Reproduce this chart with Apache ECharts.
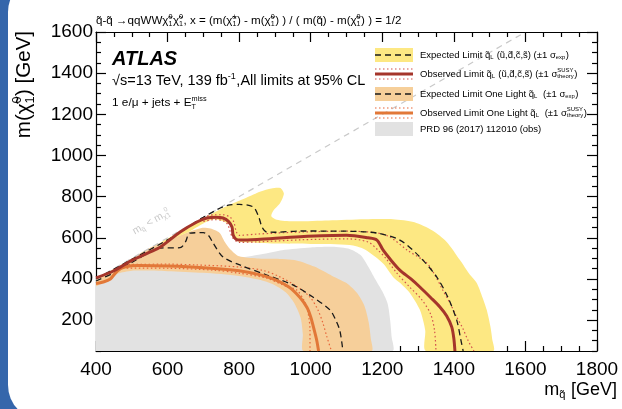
<!DOCTYPE html>
<html><head><meta charset="utf-8">
<script src="https://cdn.jsdelivr.net/npm/echarts@6/dist/echarts.min.js"></script>
<style>
html,body{margin:0;padding:0;width:622px;height:409px;overflow:hidden;background:#3566ab;}
#card{position:absolute;left:8px;top:-23px;width:700px;height:443px;background:#fff;border-radius:35px;}
#chart{position:absolute;left:0;top:0;width:622px;height:409px;}
</style></head>
<body><div id="card"></div><div id="chart"></div>
<script>
// ---------------- data (GeV) ----------------
const xTickLabels = [400, 600, 800, 1000, 1200, 1400, 1600, 1800];
const yTickLabels = [200, 400, 600, 800, 1000, 1200, 1400, 1600];
const yMinorTicks = [50,100,150,250,300,350,450,500,550,650,700,750,850,900,950,1050,1100,1150,1250,1300,1350,1450,1500,1550];

const prdRegion = [[400,50],[400,372],[420,385],[440,410],[460,440],[480,458],[520,468],[600,472],[700,478],[800,502],[870,522],[920,540],[1000,553],[1060,556],[1110,545],[1140,515],[1160,462],[1180,400],[1200,340],[1215,280],[1222,200],[1226,120],[1228,50]];

const lightExpBand = [[400,400],[450,450],[500,500],[550,550],[600,590],[640,615],[670,635],[695,648],[720,645],[745,625],[760,580],[775,545],[800,510],[850,500],[900,498],[960,490],[1010,460],[1060,415],[1100,380],[1130,330],[1150,270],[1162,190],[1168,110],[1170,50],
  [980,50],[978,130],[972,210],[955,280],[930,335],[900,370],[860,395],[800,415],[700,430],[600,438],[500,440],[460,425],[430,395],[400,365]];

const fourExpBand = [[580,575],[650,645],[700,695],[760,750],[820,795],[860,825],[890,840],[915,842],[925,815],[915,770],[895,730],[890,705],[905,688],[950,680],[1050,684],[1150,690],[1230,690],[1290,675],[1340,635],[1380,580],[1417,492],[1445,420],[1464,380],[1480,310],[1492,249],[1502,170],[1507,110],[1510,50],
  [1322,50],[1320,150],[1305,250],[1277,332],[1250,380],[1230,410],[1205,470],[1185,502],[1150,545],[1109,565],[1000,570],[900,572],[820,578],[795,585],[785,620],[775,660],[755,680],[730,690],[700,670],[660,630],[620,600]];

const kinematicLine = [[400,400],[1600,1600]];

const fourObs = [[400,405],[450,440],[500,490],[550,530],[580,555],[635,628],[682,677],[710,696],[735,700],[755,696],[770,680],[780,652],[783,615],[790,595],[802,589],[850,592],[970,605],[1100,612],[1160,600],[1185,589],[1202,541],[1225,490],[1249,443],[1280,400],[1305,361],[1335,310],[1361,264],[1380,220],[1394,167],[1400,110],[1403,50]];
const fourObsUp = [[700,700],[730,712],[755,712],[775,700],[785,677],[792,630],[800,612],[850,618],[970,628],[1100,632],[1180,625],[1221,604],[1270,540],[1324,478],[1350,410],[1369,346],[1390,280],[1408,215],[1425,160],[1440,100],[1456,50]];
const fourObsDown = [[700,680],[730,688],[755,683],[768,665],[775,630],[782,600],[800,578],[850,580],[970,590],[1100,595],[1160,580],[1188,540],[1210,500],[1240,430],[1277,360],[1310,300],[1335,230],[1346,150],[1350,50]];
const fourExp = [[400,400],[500,495],[600,590],[654,648],[700,700],[774,760],[800,762],[839,750],[855,700],[864,652],[877,628],[900,627],[970,633],[1100,632],[1185,623],[1249,589],[1305,507],[1352,410],[1383,312],[1408,200],[1420,100],[1426,50]];

const lightObs = [[400,378],[420,385],[440,400],[460,440],[480,458],[520,465],[600,463],[700,455],[800,440],[860,420],[900,397],[940,360],[970,310],[990,260],[1000,215],[1010,150],[1017,100],[1022,50]];
const lightObsUp = [[480,470],[600,472],[682,468],[802,458],[870,440],[914,410],[960,365],[998,312],[1020,250],[1034,186],[1045,120],[1058,50]];
const lightObsDown = [[475,453],[600,452],[727,443],[800,428],[877,404],[930,365],[961,346],[980,300],[989,264],[995,210],[998,152],[998,50]];
const lightExp = [[400,390],[450,430],[500,480],[560,540],[579,550],[635,552],[650,580],[662,623],[700,625],[715,610],[727,575],[755,507],[802,468],[877,419],[950,371],[1006,312],[1054,249],[1070,200],[1081,152],[1087,90],[1090,50]];

// ---------------- style ----------------
const FF = '"Liberation Sans", Arial, Helvetica, sans-serif';
const C = {
  gray:'#e2e2e2', orangeBand:'#f6cf9a', yellowBand:'#fde883',
  red:'#a5352b', redDot:'#d2504c', orange:'#e27838', orangeDot:'#e8663a', dash:'#1a1a1a', diag:'#c9c9c9'
};

const chart = echarts.init(document.getElementById('chart'), null, {renderer:'canvas'});

function poly(name, pts, color, z){
  return {type:'custom', name, z, silent:true, clip:true, data:pts, encode:{x:0,y:1},
    renderItem:(params, api)=>{
      if(params.dataIndex!==0) return null;
      return {type:'polygon', shape:{points:pts.map(p=>api.coord(p)), smooth:0.25}, style:{fill:color}};
    }};
}
function line(name, pts, color, width, type, z){
  return {type:'line', name, z, silent:true, data:pts, showSymbol:false, smooth:0.3, clip:true,
    lineStyle:{color, width, type, cap:'butt'}};
}

const blk = {color:'#000', width:1.2};
const plain = v => String(v);
function xAx(pos, labels){
  return {type:'value', min:400, max:1800, interval:200, position:pos,
    splitLine:{show:false}, minorSplitLine:{show:false},
    axisLine:{show:true, onZero:false, lineStyle:blk},
    axisTick:{show:true, inside:true, length:10, lineStyle:blk},
    minorTick:{show:true, splitNumber:4, length:5, lineStyle:blk},
    axisLabel: labels ? {show:true, fontSize:19, color:'#000', margin:9, fontFamily:FF, formatter:plain, customValues:xTickLabels} : {show:false}};
}
function yAx(pos, labels){
  return {type:'value', min:50, max:1600, position:pos,
    splitLine:{show:false}, minorSplitLine:{show:false},
    axisLine:{show:true, onZero:false, lineStyle:blk},
    axisTick:{show:true, inside:true, length:10, lineStyle:blk, customValues:yTickLabels},
    axisLabel: labels ? {show:true, fontSize:19, color:'#000', margin:3, fontFamily:FF, formatter:plain, customValues:yTickLabels} : {show:false}};
}
function yMinor(pos){
  return {type:'value', min:50, max:1600, position:pos,
    splitLine:{show:false}, minorSplitLine:{show:false},
    axisLine:{show:false, onZero:false},
    axisTick:{show:true, inside:true, length:5, lineStyle:blk, customValues:yMinorTicks},
    axisLabel:{show:false}};
}

chart.setOption({
  animation:false,
  grid:{left:96, right:25, top:32, bottom:58},
  xAxis:[xAx('bottom', true), xAx('top', false)],
  yAxis:[yAx('left', true), yAx('right', false), yMinor('left'), yMinor('right')],
  series:[
    poly('PRD 96 (2017) 112010 (obs)', prdRegion, C.gray, 1),
    poly('Expected One Light band', lightExpBand, C.orangeBand, 2),
    poly('Expected 4 flavour band', fourExpBand, C.yellowBand, 3),
    line('kinematic', kinematicLine, C.diag, 1.2, [6,5], 4),
    line('obs light up', lightObsUp, C.orangeDot, 1.2, [1.5,2.5], 5),
    line('obs light down', lightObsDown, C.orangeDot, 1.2, [1.5,2.5], 5),
    line('obs 4 up', fourObsUp, C.redDot, 1.2, [1.5,2.5], 5),
    line('obs 4 down', fourObsDown, C.redDot, 1.2, [1.5,2.5], 5),
    line('exp light', lightExp, C.dash, 1.3, [6,4], 6),
    line('exp 4', fourExp, C.dash, 1.3, [6,4], 6),
    line('obs light', lightObs, C.orange, 3, 'solid', 7),
    line('obs 4', fourObs, C.red, 3, 'solid', 7)
  ]
});

// ---------------- text helpers ----------------
const ctx = document.createElement('canvas').getContext('2d');
function fnt(size, o){ o=o||{}; return (o.style||'normal')+' '+(o.weight||'normal')+' '+size+'px '+FF; }
function tw(t, font){ ctx.font = font; return ctx.measureText(t).width; }
function txt(x, y, t, font, color){
  return {type:'text', x, y, silent:true, z:100,
    style:{text:t, font, fill:color, textAlign:'left', align:'left', textVerticalAlign:'middle', verticalAlign:'middle'}};
}
function run(segs, size, color, o){
  const kids=[]; let x=0;
  segs.forEach(s=>{
    if(typeof s==='string'){ const f=fnt(size,o); kids.push(txt(x,0,s,f,color)); x+=tw(s,f); }
    else { const ss=size*0.62, f=fnt(ss,o); let w=0;
      if(s.sup!=null){ kids.push(txt(x,-size*0.33,s.sup,f,color)); w=Math.max(w,tw(s.sup,f)); }
      if(s.sub!=null){ kids.push(txt(x,size*0.3,s.sub,f,color)); w=Math.max(w,tw(s.sub,f)); }
      x+=w+0.5; }
  });
  return {kids, width:x};
}
function group(x, y, r, rot){ return {type:'group', x, y, rotation:rot||0, z:100, children:r.kids}; }

const qt = 'q\u0303', chi = '\u03c7\u0303';
const g = [];
// title
g.push(group(96, 21, run([qt+'-'+qt+' \u2192qqWW'+chi, {sup:'0',sub:'1'}, chi, {sup:'0',sub:'1'},
  ', x = (m('+chi, {sup:'\u00b1',sub:'1'}, ') - m('+chi, {sup:'0',sub:'1'}, ') ) / ( m('+qt+') - m('+chi, {sup:'0',sub:'1'}, ') ) = 1/2'], 11.6, '#000')));
// ATLAS
g.push(group(112, 59, run(['ATLAS'], 20, '#000', {style:'italic', weight:'bold'})));
g.push(group(112, 81, run(['\u221as=13 TeV, 139 fb', {sup:'-1'}, ',All limits at 95% CL'], 14.5, '#000')));
g.push(group(112, 103, run(['1 e/\u03bc + jets + E', {sup:'miss', sub:'T'}], 11.8, '#000')));

// legend
const lx = 375, lw = 38, tx = 420, ls = 9.5;
const rows = [55, 74, 94, 113, 129];
g.push({type:'rect', z:99, silent:true, shape:{x:lx, y:rows[0]-7, width:lw, height:14}, style:{fill:C.yellowBand}});
g.push({type:'line', z:100, silent:true, shape:{x1:lx, y1:rows[0], x2:lx+lw, y2:rows[0]}, style:{stroke:C.dash, lineWidth:1.3, lineDash:[6,4]}});
g.push({type:'line', z:100, silent:true, shape:{x1:lx, y1:rows[1]-5, x2:lx+lw, y2:rows[1]-5}, style:{stroke:C.redDot, lineWidth:1.2, lineDash:[1.5,2.5]}});
g.push({type:'line', z:100, silent:true, shape:{x1:lx, y1:rows[1]+5, x2:lx+lw, y2:rows[1]+5}, style:{stroke:C.redDot, lineWidth:1.2, lineDash:[1.5,2.5]}});
g.push({type:'line', z:100, silent:true, shape:{x1:lx, y1:rows[1], x2:lx+lw, y2:rows[1]}, style:{stroke:C.red, lineWidth:3}});
g.push({type:'rect', z:99, silent:true, shape:{x:lx, y:rows[2]-7, width:lw, height:14}, style:{fill:C.orangeBand}});
g.push({type:'line', z:100, silent:true, shape:{x1:lx, y1:rows[2], x2:lx+lw, y2:rows[2]}, style:{stroke:C.dash, lineWidth:1.3, lineDash:[6,4]}});
g.push({type:'line', z:100, silent:true, shape:{x1:lx, y1:rows[3]-5, x2:lx+lw, y2:rows[3]-5}, style:{stroke:C.orangeDot, lineWidth:1.2, lineDash:[1.5,2.5]}});
g.push({type:'line', z:100, silent:true, shape:{x1:lx, y1:rows[3]+5, x2:lx+lw, y2:rows[3]+5}, style:{stroke:C.orangeDot, lineWidth:1.2, lineDash:[1.5,2.5]}});
g.push({type:'line', z:100, silent:true, shape:{x1:lx, y1:rows[3], x2:lx+lw, y2:rows[3]}, style:{stroke:C.orange, lineWidth:3}});
g.push({type:'rect', z:99, silent:true, shape:{x:lx, y:rows[4]-7, width:lw, height:14}, style:{fill:C.gray}});

const sq = ' (\u0169,d\u0303,c\u0303,s\u0303)';
g.push(group(tx, rows[0], run(['Expected Limit '+qt, {sub:'L'}, sq+' (\u00b11 \u03c3', {sub:'exp'}, ')'], ls, '#000')));
g.push(group(tx, rows[1], run(['Observed Limit '+qt, {sub:'L'}, sq+' (\u00b11 \u03c3', {sup:'SUSY', sub:'theory'}, ')'], ls, '#000')));
g.push(group(tx, rows[2], run(['Expected Limit One Light '+qt, {sub:'L'}, '  (\u00b11 \u03c3', {sub:'exp'}, ')'], ls, '#000')));
g.push(group(tx, rows[3], run(['Observed Limit One Light '+qt, {sub:'L'}, '  (\u00b11 \u03c3', {sup:'SUSY', sub:'theory'}, ')'], ls, '#000')));
g.push(group(tx, rows[4], run(['PRD 96 (2017) 112010 (obs)'], ls, '#000')));

// axis titles
const xt = run(['m', {sub:qt}, ' [GeV]'], 18, '#000');
g.push(group(617 - xt.width, 390, xt));
const yt = run(['m('+chi, {sup:'0', sub:'1'}, ') [GeV]'], 20.5, '#000');
g.push(group(24, 31 + yt.width, yt, Math.PI/2));

// kinematic label, placed along the diagonal
const pA = chart.convertToPixel({gridIndex:0}, [560,560]);
const dl = run(['m', {sub:qt}, ' < m', {sub:chi}, {sup:'0', sub:'1'}], 10.5, C.diag);
const ang = Math.atan2(1, 1.74);
g.push(group(pA[0] - 20, pA[1] - 14, dl, ang));

chart.setOption({graphic:{elements:g}});
</script>
</body></html>
